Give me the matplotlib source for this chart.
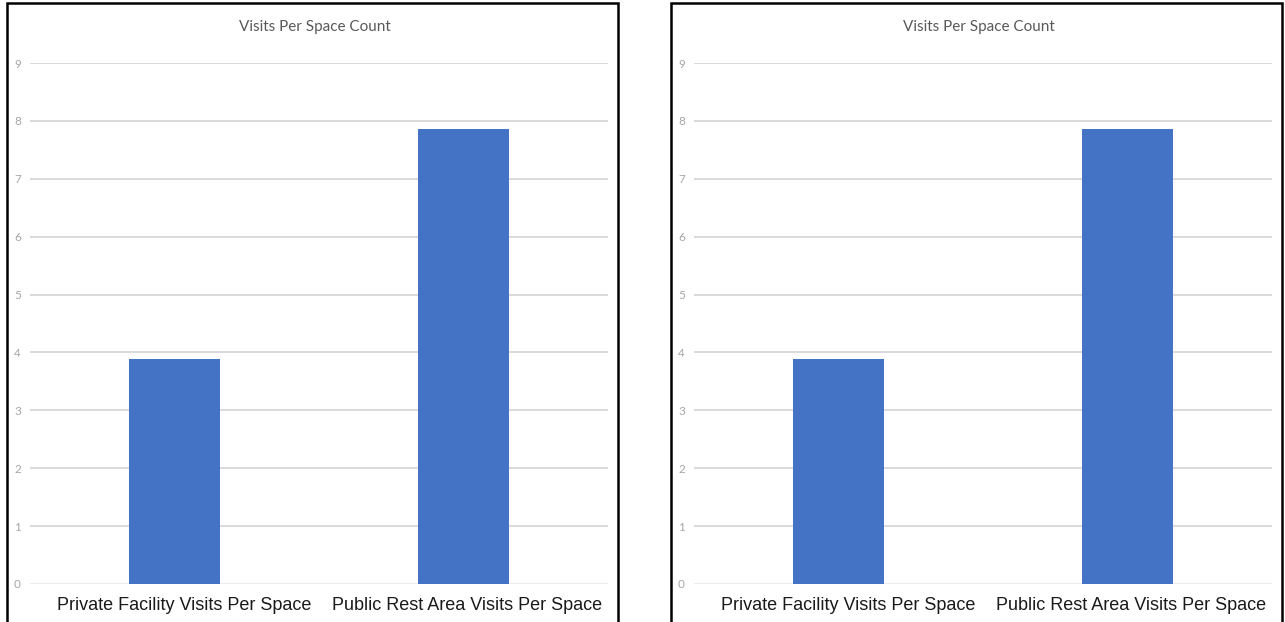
import matplotlib
matplotlib.use("Agg")
import matplotlib.pyplot as plt
from matplotlib.patches import Rectangle
from matplotlib.transforms import ScaledTranslation

# ---- data ----
categories = ["Private Facility Visits Per Space", "Public Rest Area Visits Per Space"]
values = [3.88, 7.86]
y_ticks = [0, 1, 2, 3, 4, 5, 6, 7, 8, 9]
title = "Visits Per Space Count"

W, H = 1285, 622
fig = plt.figure(figsize=(W / 100, H / 100), dpi=100)
fig.patch.set_facecolor("white")

arial = ["Liberation Sans", "DejaVu Sans"]
calibri_like = ["Lato", "Liberation Sans", "DejaVu Sans"]

BAR_COLOR = "#4472C4"
GRID_COLOR = "#d9d9d9"
label_shift_px = [10, 4]


def panel(offset):
    # outer black frame
    fig.add_artist(Rectangle(((7 + offset) / W, -0.02), 611 / W, (H - 3) / H + 0.02,
                             transform=fig.transFigure, fill=False, lw=1.8,
                             ec="black", zorder=10))
    x0, x1 = 30 + offset, 608 + offset
    ytop, ybot = 63, 584
    ax = fig.add_axes([x0 / W, (H - ybot) / H, (x1 - x0) / W, (ybot - ytop) / H])
    ax.set_xlim(-0.5, 1.5)
    ax.set_ylim(0, 9)
    for s in ax.spines.values():
        s.set_visible(False)
    ax.set_yticks(y_ticks)
    ax.set_yticklabels([str(t) for t in y_ticks], family=calibri_like, fontsize=8.5,
                       color="#a6a6a6", ha="center")
    ax.tick_params(axis="y", length=0, pad=9)
    ax.set_xticks(range(len(categories)))
    ax.set_xticklabels(categories, family=arial, fontsize=13, color="#1a1a1a")
    ax.tick_params(axis="x", length=0, pad=9)
    for lbl, dx in zip(ax.get_xticklabels(), label_shift_px):
        lbl.set_transform(lbl.get_transform() + ScaledTranslation(dx / 100, 0, fig.dpi_scale_trans))
    for t in y_ticks:
        ax.axhline(t, color=GRID_COLOR if t > 0 else "#ececec", lw=1.4, zorder=0)
    ax.bar(range(len(categories)), values, width=0.312, color=BAR_COLOR, zorder=2)
    fig.text((315 + offset) / W, (H - 27) / H, title, family=calibri_like, fontsize=11,
             color="#595959", ha="center", va="center")


panel(0)
panel(664)

fig.savefig("out.png", dpi=100, facecolor="white")
